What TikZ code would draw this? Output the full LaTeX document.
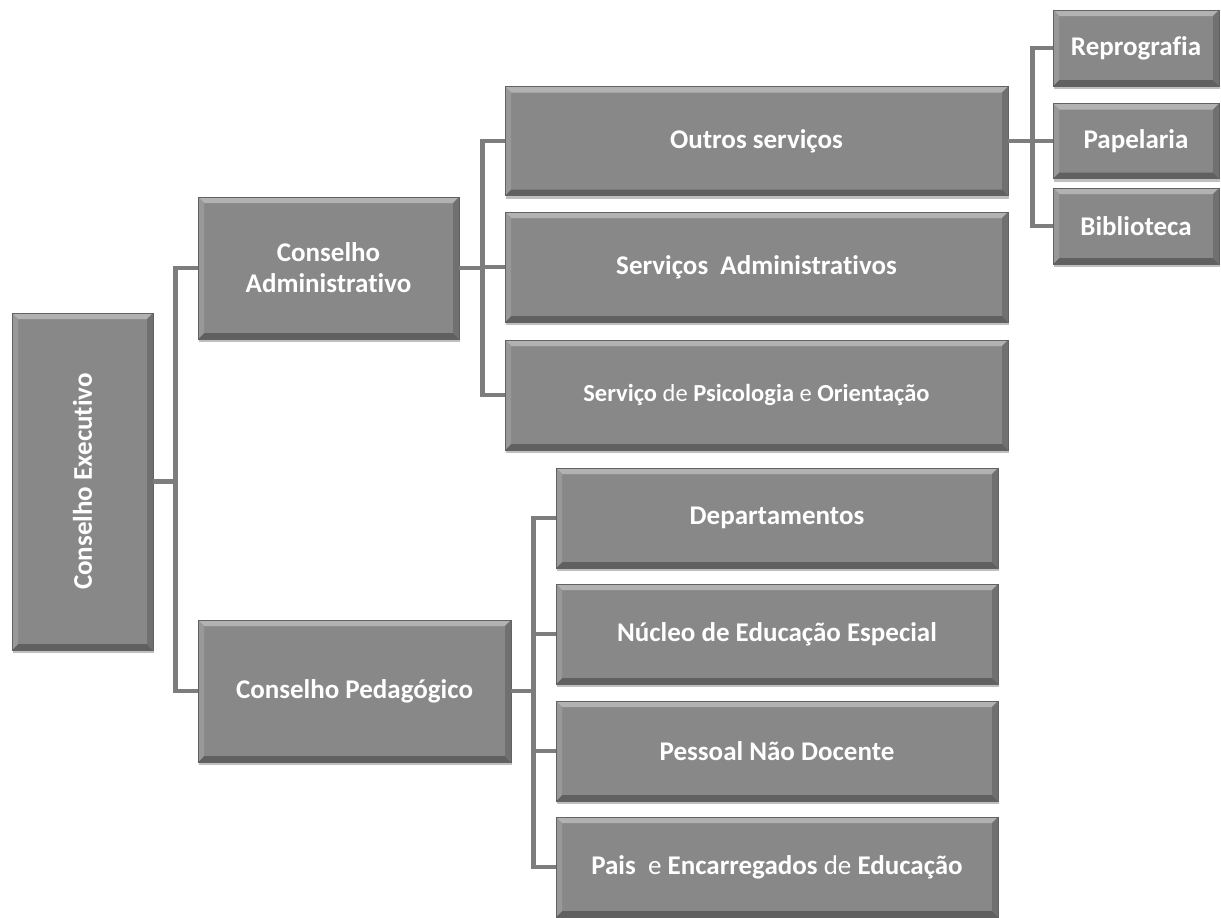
\documentclass[tikz,border=0pt]{standalone}
\usepackage{fontspec}
\setmainfont[Ligatures={NoCommon}]{Carlito}
\usetikzlibrary{shadows}
\definecolor{boxfill}{RGB}{136,136,136}
\definecolor{bevtop}{RGB}{178,178,178}
\definecolor{bevleft}{RGB}{152,152,152}
\definecolor{bevright}{RGB}{112,112,112}
\definecolor{bevbot}{RGB}{96,96,96}
\definecolor{edgegray}{RGB}{98,98,98}
\definecolor{linegray}{RGB}{125,125,125}
\tikzset{
  orgbox/.style={rectangle, fill=boxfill, draw=edgegray, line width=0.6pt,
    text=white, font=\bfseries\fontsize{27}{31}\selectfont, align=center, inner sep=0pt,
    drop shadow={shadow xshift=1pt, shadow yshift=-3pt, fill=black, opacity=0.25},
    path picture={
      \fill[bevtop] (path picture bounding box.north west) -- (path picture bounding box.north east)
        -- ([shift={(-6pt,-6pt)}]path picture bounding box.north east)
        -- ([shift={(6pt,-6pt)}]path picture bounding box.north west) -- cycle;
      \fill[bevbot] (path picture bounding box.south west) -- (path picture bounding box.south east)
        -- ([shift={(-6pt,6pt)}]path picture bounding box.south east)
        -- ([shift={(6pt,6pt)}]path picture bounding box.south west) -- cycle;
      \fill[bevleft] (path picture bounding box.north west) -- (path picture bounding box.south west)
        -- ([shift={(6pt,6pt)}]path picture bounding box.south west)
        -- ([shift={(6pt,-6pt)}]path picture bounding box.north west) -- cycle;
      \fill[bevright] (path picture bounding box.north east) -- (path picture bounding box.south east)
        -- ([shift={(-6pt,6pt)}]path picture bounding box.south east)
        -- ([shift={(-6pt,-6pt)}]path picture bounding box.north east) -- cycle;
    }},
  conn/.style={draw=linegray, line width=4.5pt}
}
\begin{document}
\begin{tikzpicture}[x=1pt, y=-1pt]
\useasboundingbox (0,0) rectangle (1221,918);
% level 0
\node[orgbox, minimum width=141pt, minimum height=337pt] (ce) at (82.5,481.5) {\rotatebox{90}{Conselho Executivo}};
% level 1
\node[orgbox, minimum width=261pt, minimum height=142pt] (ca) at (328.5,268) {Conselho\\Administrativo};
\node[orgbox, minimum width=313pt, minimum height=142pt] (cp) at (354.5,691) {Conselho Pedagógico};
% level 2 (administrativo)
\node[orgbox, minimum width=503pt, minimum height=109pt] (os) at (756.5,141) {Outros serviços};
\node[orgbox, minimum width=503pt, minimum height=110pt] (sa) at (756.5,267) {Serviços\ \ Administrativos};
\node[orgbox, minimum width=503pt, minimum height=110pt, font=\bfseries\fontsize{24.5}{28}\selectfont] (sp) at (756.5,395) {Serviço {\mdseries de} Psicologia {\mdseries e} Orientação};
% level 2 (pedagogico)
\node[orgbox, minimum width=442pt, minimum height=100pt] (dep) at (777,518) {Departamentos};
\node[orgbox, minimum width=442pt, minimum height=100pt] (nee) at (777,634) {Núcleo de Educação Especial};
\node[orgbox, minimum width=442pt, minimum height=100pt] (pnd) at (777,751) {Pessoal Não Docente};
\node[orgbox, minimum width=442pt, minimum height=100pt] (pee) at (777,867) {Pais\ \ {\mdseries e} Encarregados {\mdseries de} Educação};
% level 3
\node[orgbox, minimum width=166pt, minimum height=76pt] (rep) at (1136,48) {Reprografia};
\node[orgbox, minimum width=166pt, minimum height=75pt] (pap) at (1136,141) {Papelaria};
\node[orgbox, minimum width=166pt, minimum height=76pt] (bib) at (1136,226) {Biblioteca};
% connectors
\draw[conn] (ce.east) -- ++(22,0) |- (ca.west);
\draw[conn] (ce.east) -- ++(22,0) |- (cp.west);
\draw[conn] (ca.east) -- ++(23,0) |- (os.west);
\draw[conn] (ca.east) -- ++(23,0) |- (sa.west);
\draw[conn] (ca.east) -- ++(23,0) |- (sp.west);
\draw[conn] (cp.east) -- ++(22,0) |- (dep.west);
\draw[conn] (cp.east) -- ++(22,0) |- (nee.west);
\draw[conn] (cp.east) -- ++(22,0) |- (pnd.west);
\draw[conn] (cp.east) -- ++(22,0) |- (pee.west);
\draw[conn] (os.east) -- ++(24,0) |- (rep.west);
\draw[conn] (os.east) -- ++(24,0) |- (pap.west);
\draw[conn] (os.east) -- ++(24,0) |- (bib.west);
\end{tikzpicture}
\end{document}
